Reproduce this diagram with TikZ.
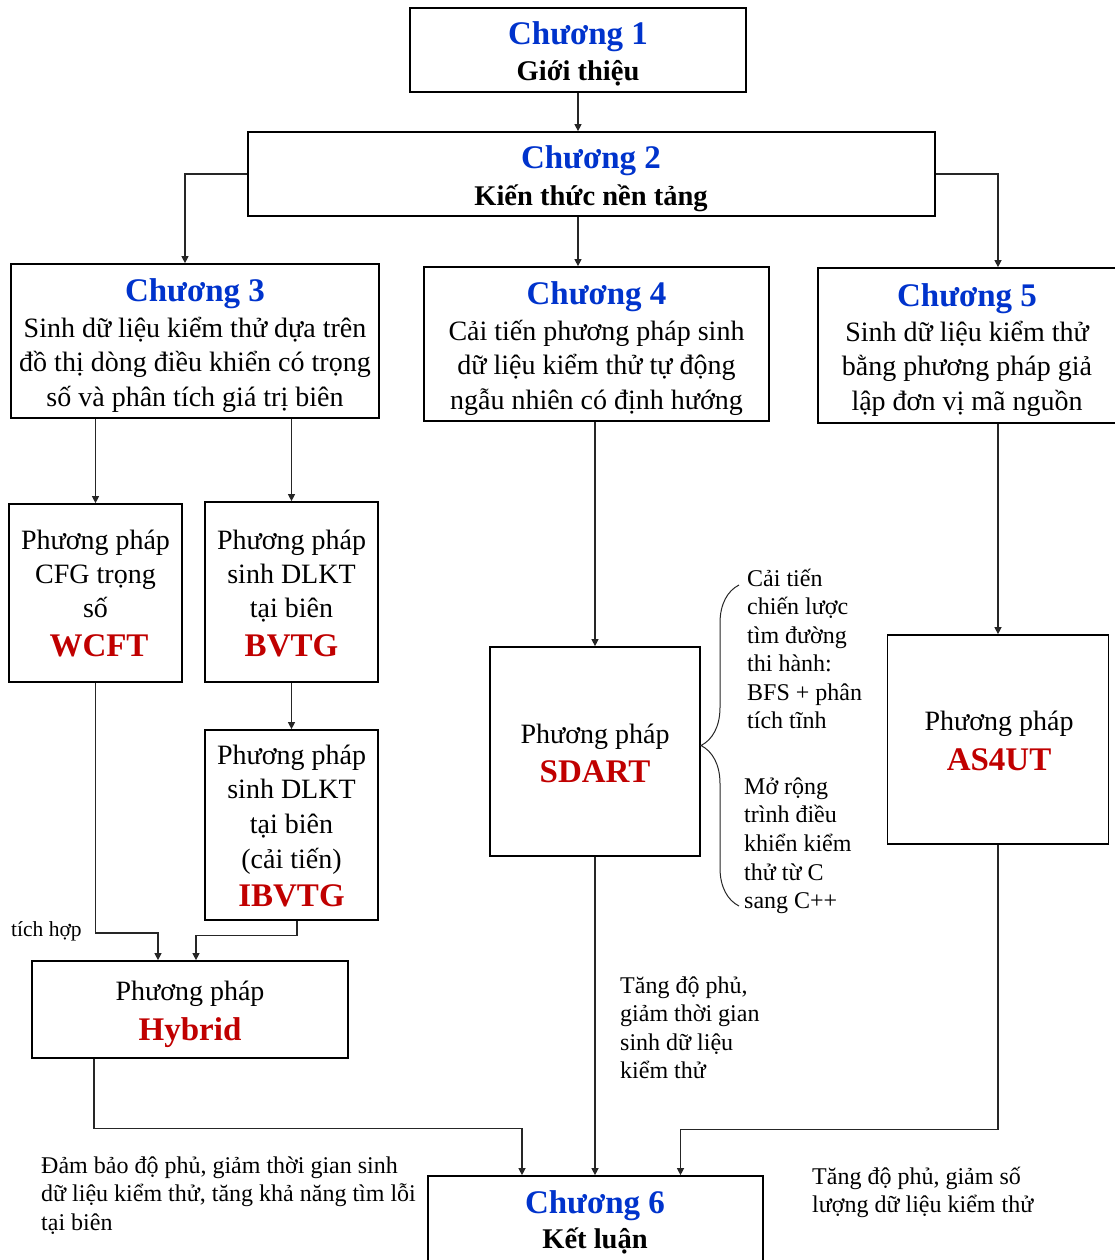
\documentclass[tikz,border=0pt]{standalone}
\usepackage{fontspec}
\setmainfont{Liberation Serif}
\usetikzlibrary{arrows.meta,decorations.pathreplacing}
\definecolor{chblue}{RGB}{0,51,204}
\definecolor{chred}{RGB}{192,0,0}

% #1 style, #2 name prefix, #3 x, #4 first baseline, #5 line step, #6 lines
\newcommand\txtlines[6]{%
  \foreach \lntext [count=\i] in {#6} {%
    \node[#1] (#2\i) at (#3,{#4+(\i-1)*#5}) {\lntext};}}

\begin{document}
\begin{tikzpicture}[x=1pt,y=-1pt,
  box/.style={draw, line width=1.7pt, inner sep=0pt},
  head/.style={font=\fontsize{33}{38}\selectfont\bfseries, text=chblue, anchor=base, inner sep=0pt},
  sub/.style={font=\fontsize{28.5}{34}\selectfont\bfseries, anchor=base, inner sep=0pt},
  body/.style={font=\fontsize{28}{34}\selectfont, anchor=base, inner sep=0pt},
  lbl/.style={font=\fontsize{33}{38}\selectfont\bfseries, text=chred, anchor=base, inner sep=0pt},
  note/.style={font=\fontsize{24}{28.5}\selectfont, anchor=base west, inner sep=0pt},
  arr/.style={-{Triangle[width=7pt,length=7pt]}, line width=1.2pt, draw=black!85}]
\useasboundingbox (0,0) rectangle (1115,1260);

% chapter boxes
\node[box, minimum width=336, minimum height=84]  (c1) at (578,50) {};
\node[box, minimum width=687, minimum height=84]  (c2) at (591.5,174) {};
\node[box, minimum width=368, minimum height=154] (c3) at (195,341) {};
\node[box, minimum width=345, minimum height=154] (c4) at (596.5,344) {};
\node[box, minimum width=307, minimum height=155] (c5) at (971.5,345.5) {};
\node[box, minimum width=335, minimum height=92]  (c6) at (595.5,1222) {};

% method boxes
\node[box, minimum width=173, minimum height=178] (wcft)  at (95.5,593) {};
\node[box, minimum width=173, minimum height=180] (bvtg)  at (291.5,592) {};
\node[box, minimum width=173, minimum height=190] (ibvtg) at (291.5,825) {};
\node[box, minimum width=316, minimum height=97]  (hyb)   at (190,1009.5) {};
\node[box, minimum width=210, minimum height=209] (sdart) at (595,751.5) {};
\node[box, minimum width=221, minimum height=209] (as4ut) at (998,739.5) {};

% chapter texts
\node[head] (h1) at (578,45) {Chương 1};
\node[sub]  (s1) at (578,81) {Giới thiệu};
\node[head] (h2) at (591,169) {Chương 2};
\node[sub]  (s2) at (591,205.5) {Kiến thức nền tảng};
\node[head] (h3) at (195,301) {Chương 3};
\txtlines{body}{b3}{195}{337}{34.5}{Sinh dữ liệu kiểm thử dựa trên, đồ thị dòng điều khiển có trọng, số và phân tích giá trị biên}
\node[head] (h4) at (596.5,304) {Chương 4};
\txtlines{body}{b4}{596.5}{340}{34.5}{Cải tiến phương pháp sinh, dữ liệu kiểm thử tự động, ngẫu nhiên có định hướng}
\node[head] (h5) at (967,306) {Chương 5};
\txtlines{body}{b5}{967}{341}{34.7}{Sinh dữ liệu kiểm thử, bằng phương pháp giả, lập đơn vị mã nguồn}
\node[head] (h6) at (595,1213) {Chương 6};
\node[sub]  (s6) at (595,1248) {Kết luận};

% method texts
\txtlines{body}{bw}{95.5}{549}{34}{Phương pháp, CFG trọng, số}
\node[lbl] (lw) at (99,656) {WCFT};
\txtlines{body}{bb}{291.5}{549}{34}{Phương pháp, sinh DLKT, tại biên}
\node[lbl] (lb) at (291.5,656) {BVTG};
\txtlines{body}{bi}{291.5}{764}{34.7}{Phương pháp, sinh DLKT, tại biên, (cải tiến)}
\node[lbl] (li) at (291.5,906) {IBVTG};
\node[body] (bh) at (190,1000) {Phương pháp};
\node[lbl]  (lh) at (190,1040) {Hybrid};
\node[body] (bs) at (595,743) {Phương pháp};
\node[lbl]  (ls) at (595,782) {SDART};
\node[body] (ba) at (999,730) {Phương pháp};
\node[lbl]  (la) at (999,770) {AS4UT};

% annotations
\node[note, font=\fontsize{21.5}{26}\selectfont] (tichhop) at (11,936) {tích hợp};
\txtlines{note}{na}{747}{586}{28.5}{Cải tiến, chiến lược, tìm đường, thi hành:, BFS + phân, tích tĩnh}
\txtlines{note}{nb}{744}{794}{28.7}{Mở rộng, trình điều, khiển kiểm, thử từ C, sang C++}
\txtlines{note}{nc}{620}{993}{28.5}{{Tăng độ phủ,}, giảm thời gian, sinh dữ liệu, kiểm thử}
\txtlines{note}{nd}{41}{1173}{28.5}{{Đảm bảo độ phủ, giảm thời gian sinh}, {dữ liệu kiểm thử, tăng khả năng tìm lỗi}, tại biên}
\txtlines{note}{ne}{812}{1184}{28.5}{{Tăng độ phủ, giảm số}, lượng dữ liệu kiểm thử}

% brace grouping the two SDART improvements
\draw[line width=1pt, black!85, decorate, decoration={brace, amplitude=38pt}]
  (739,906) -- (739,585);

% connectors
\draw[arr] (c1.south) -- (c1.south |- c2.north);
\draw[arr] (c2.west) -| ([xshift=-10pt]c3.north);
\draw[arr] (c1.south |- c2.south) -- (c1.south |- c4.north);
\draw[arr] (c2.east) -| (as4ut.north |- c5.north);
\draw[arr] (c3.south -| wcft.north) -- (wcft.north);
\draw[arr] (c3.south -| bvtg.north) -- (bvtg.north);
\draw[arr] (bvtg.south) -- (ibvtg.north);
\draw[arr] (wcft.south) -- (wcft.south |- 0,933) -| ([xshift=-32pt]hyb.north);
\draw[arr] ([xshift=5.5pt]ibvtg.south) -- ++(0,15) -| ([xshift=6pt]hyb.north);
\draw[arr] ([xshift=-96pt]hyb.south) -- ++(0,70) -| ([xshift=-73.5pt]c6.north);
\draw[arr] (c4.south -| sdart.north) -- (sdart.north);
\draw[arr] (sdart.south) -- (sdart.south |- c6.north);
\draw[arr] (c5.south -| as4ut.north) -- (as4ut.north);
\draw[arr] (as4ut.south) -- ++(0,285) -| ([xshift=85pt]c6.north);
\end{tikzpicture}
\end{document}
